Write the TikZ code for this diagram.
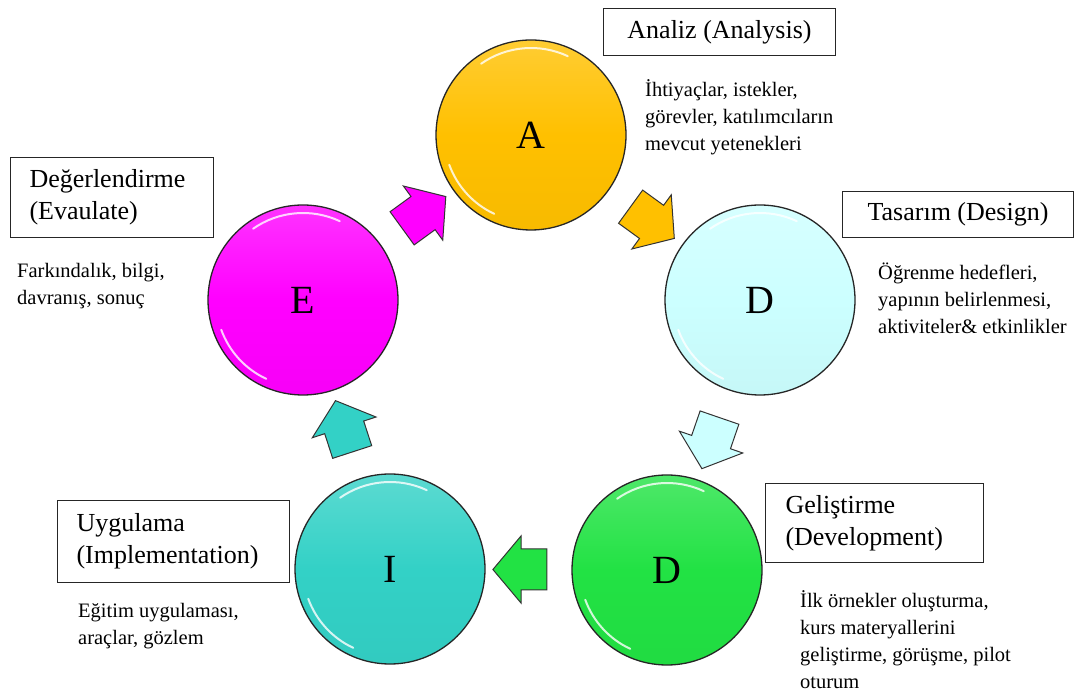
\documentclass[tikz,border=0pt]{standalone}
\usepackage{fontspec}
\setmainfont{Liberation Serif}
\usetikzlibrary{shapes.arrows,calc}

\definecolor{analizgold}{HTML}{FFC000}
\definecolor{tasarimcyan}{HTML}{CCFFFF}
\definecolor{gelistirmegreen}{HTML}{22E244}
\definecolor{uygulamateal}{HTML}{33D1C6}
\definecolor{degermagenta}{HTML}{FF00FF}

\tikzset{
  phase/.style={circle, draw=black!85, line width=1.3pt, minimum size=190pt, inner sep=0pt,
    top color=#1!80!white, bottom color=#1!97!black, middle color=#1,
    font=\fontsize{40}{40}\selectfont},
  gloss/.style={white, line width=2pt, opacity=.8, line cap=round},
  flow/.style={single arrow, draw=black!80, line width=1pt, fill=#1,
    inner xsep=0pt, inner ysep=20pt, minimum height=54pt,
    single arrow head extend=13pt, single arrow tip angle=100},
  titlebox/.style={draw=black!85, line width=1pt, inner ysep=0pt, anchor=north west,
    font=\fontsize{26}{32}\selectfont},
  note/.style={align=left, inner sep=0pt, anchor=base west, font=\fontsize{20.5}{27}\selectfont}
}

\begin{document}
\begin{tikzpicture}[x=1pt,y=1pt]
\fill[white] (0,0) rectangle (1089,696);
\useasboundingbox (0,0) rectangle (1089,696);

% the five phases
\node[phase=analizgold] (a) at (531,561) {A};
\node[phase=tasarimcyan] (d1) at (760,396) {D};
\node[phase=gelistirmegreen] (d2) at (667,126) {D};
\node[phase=uygulamateal] (i) at (390,127) {I};
\node[phase=degermagenta] (e) at (303,396) {E};

% shine on the rims
\foreach \n in {a,d1,d2,i,e}{
  \draw[gloss] ($(\n.center)+(65:87)$) arc[start angle=65,end angle=125,radius=87];
  \draw[gloss] ($(\n.center)+(200:87)$) arc[start angle=200,end angle=245,radius=87];
}

% block arrows half way between phases
\node[flow=degermagenta, rotate=36] (ea) at ($(e)!0.5!(a)$) {};
\node[flow=analizgold, rotate=-36] (ad) at ($(a)!0.5!(d1)$) {};
\node[flow=tasarimcyan, rotate=-109] (dd) at ($(d1)!0.5!(d2)$) {};
\node[flow=gelistirmegreen, rotate=180] (di) at ($(d2)!0.5!(i)$) {};
\node[flow=uygulamateal, rotate=108] (ie) at ($(i)!0.5!(e)$) {};

% titles
\node[titlebox, minimum width=232pt, minimum height=47pt] (analizbox) at (603,688) {Analiz (Analysis)};
\node[titlebox, minimum width=231pt, minimum height=46pt] (tasarimbox) at (842,505) {Tasarım (Design)};
\node[titlebox, minimum height=80pt, inner xsep=19pt, text width=165pt, align=left] (degerbox) at (10,539)
  {Değerlendirme\\(Evaulate)};
\node[titlebox, minimum height=82pt, inner xsep=19pt, text width=194pt, align=left] (uygulamabox) at (57,196)
  {Uygulama\\(Implementation)};
\node[titlebox, minimum height=79pt, inner xsep=20pt, text width=178pt, align=left] (gelistirmebox) at (765,213)
  {Geliştirme\\(Development)};

% descriptions (base = last line)
\node[note] (analiztext) at (645,545) {İhtiyaçlar, istekler,\\görevler, katılımcıların\\mevcut yetenekleri};
\node[note] (tasarimtext) at (878,362) {Öğrenme hedefleri,\\yapının belirlenmesi,\\aktiviteler\& etkinlikler};
\node[note] (degertext) at (17,391) {Farkındalık, bilgi,\\davranış, sonuç};
\node[note] (uygulamatext) at (78,52) {Eğitim uygulaması,\\araçlar, gözlem};
\node[note] (gelistirmetext) at (800,8) {İlk örnekler oluşturma,\\kurs materyallerini\\geliştirme, görüşme, pilot\\oturum};
\end{tikzpicture}
\end{document}
